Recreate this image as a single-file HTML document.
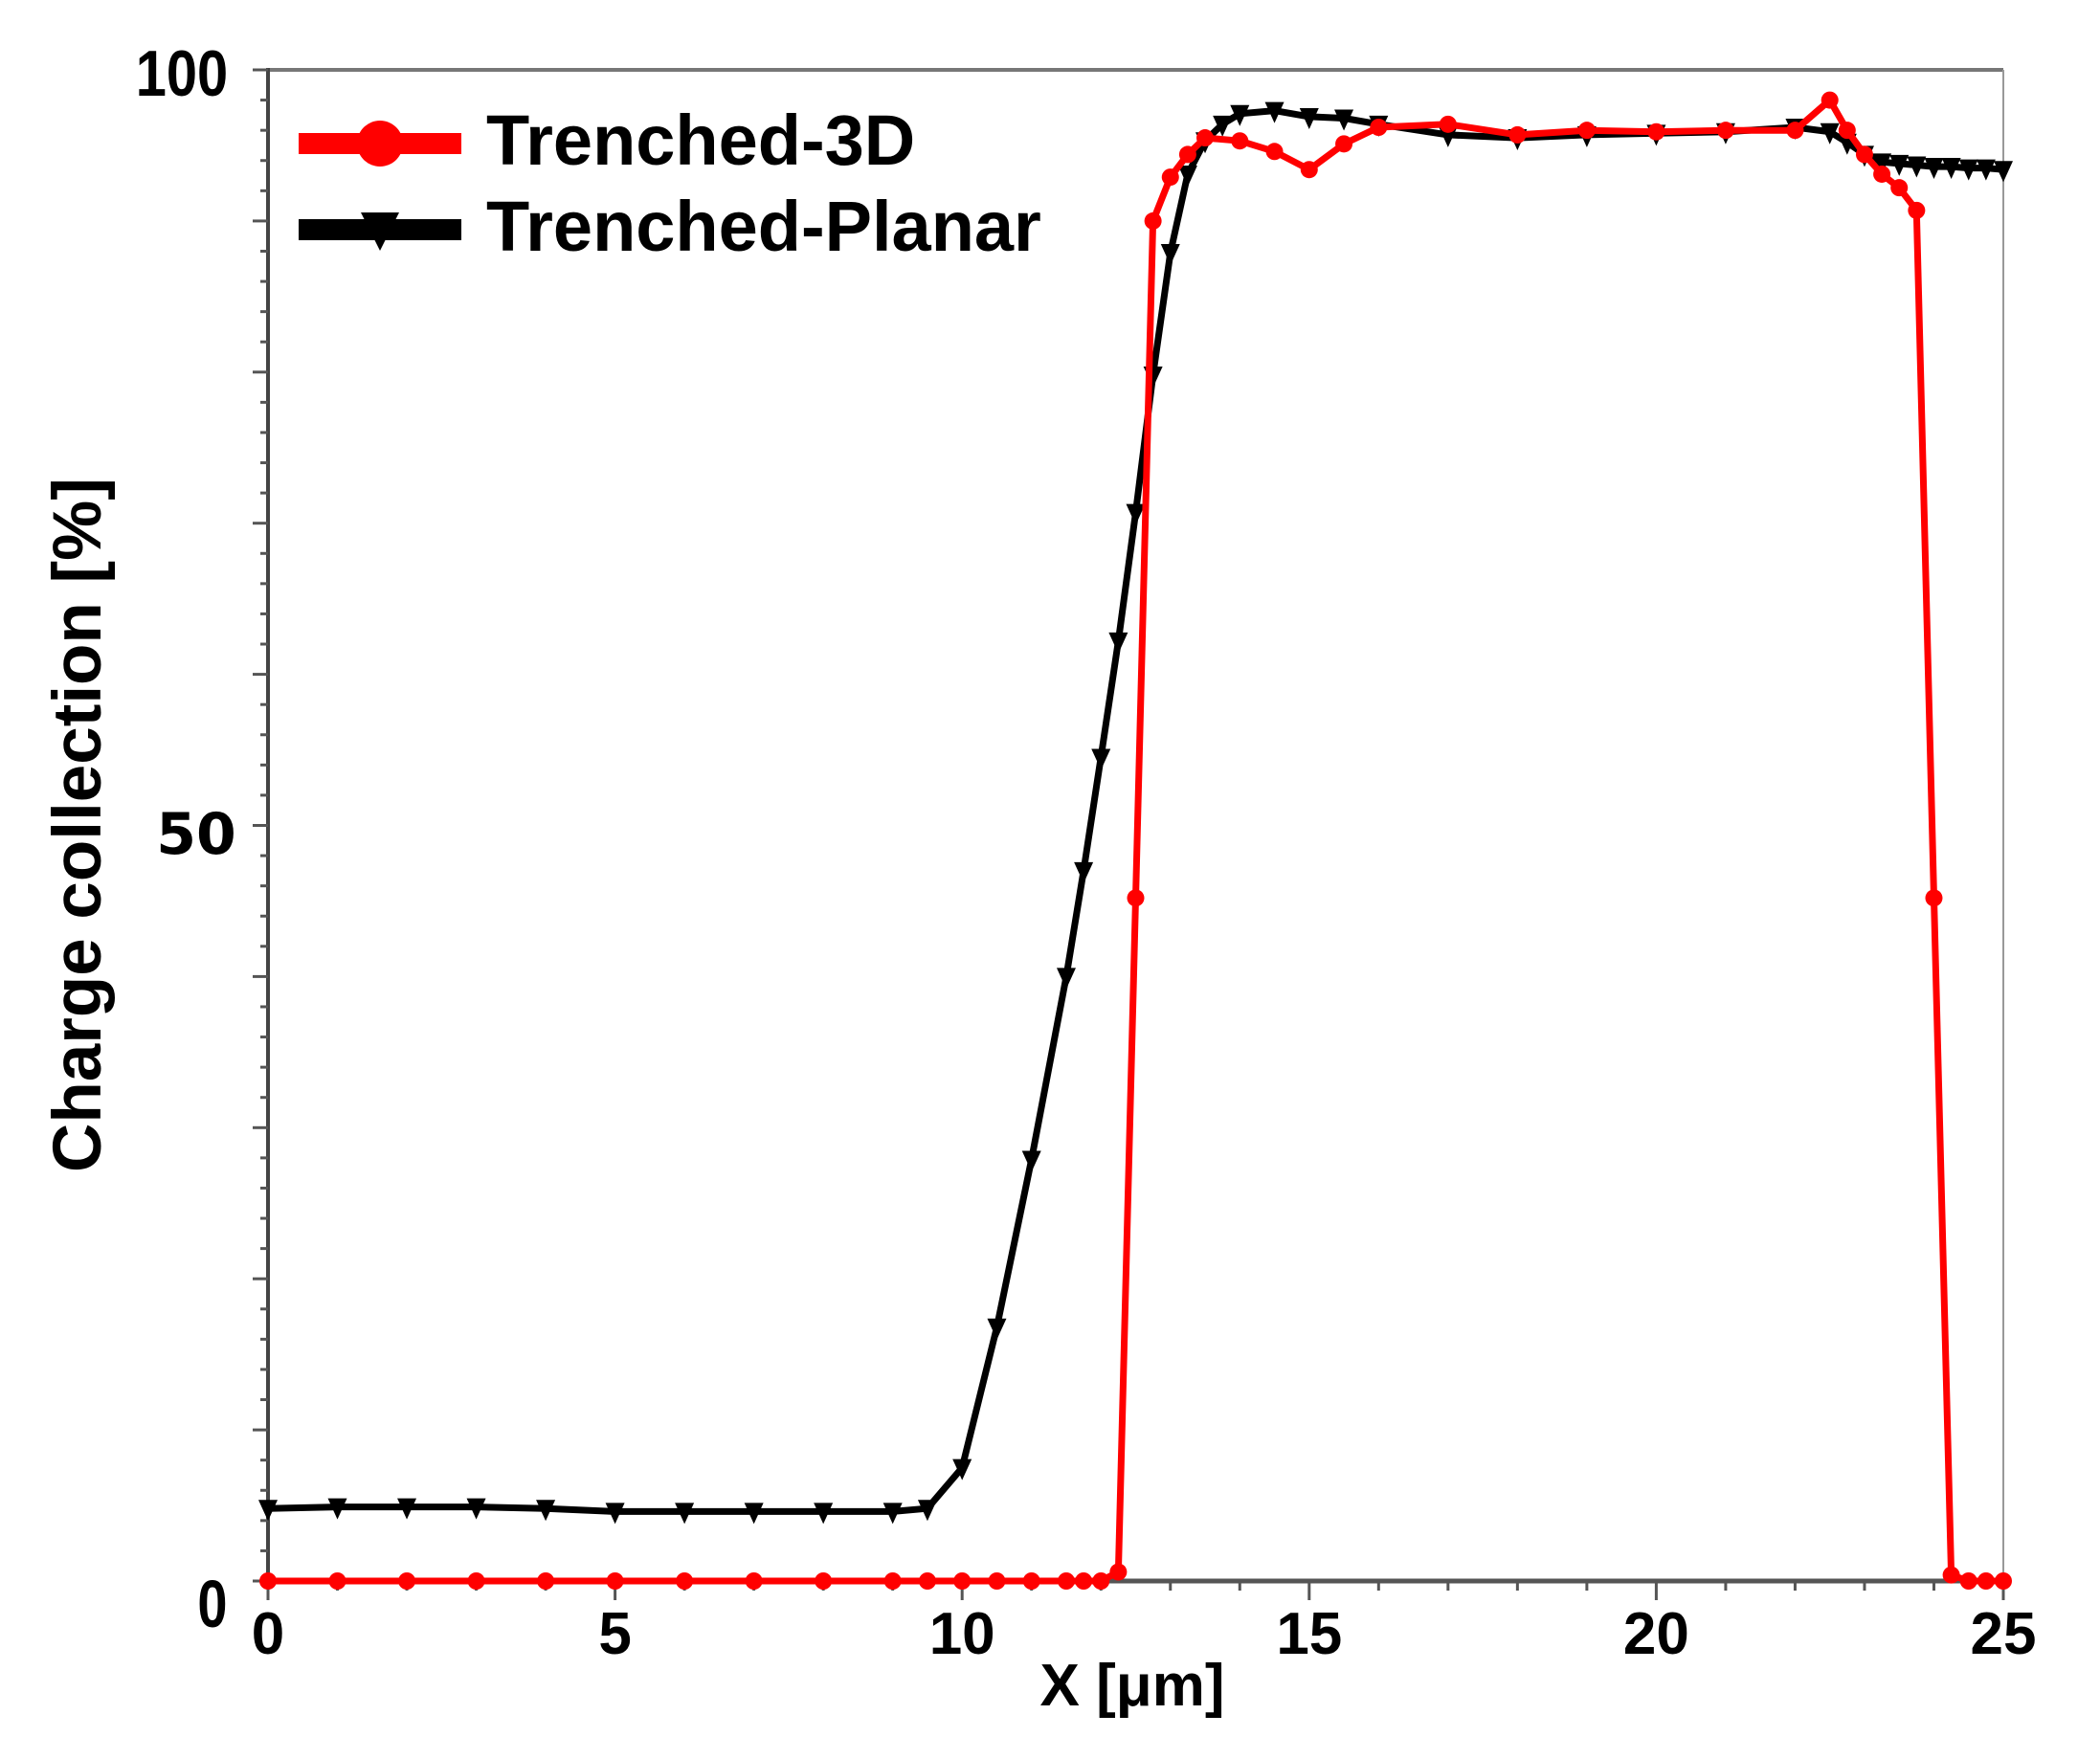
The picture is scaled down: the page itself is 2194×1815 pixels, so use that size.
<!DOCTYPE html>
<html><head><meta charset="utf-8"><style>
html,body{margin:0;padding:0;background:#fff;}
svg{display:block;}
text{font-family:"Liberation Sans",sans-serif;font-weight:bold;fill:#000;}
</style></head><body>
<svg id="s" width="2194" height="1815" viewBox="0 0 2194 1815" xmlns="http://www.w3.org/2000/svg">
<rect width="2194" height="1815" fill="#fff"/>
<line x1="280" y1="73" x2="2093" y2="73" stroke="#777" stroke-width="4"/>
<line x1="2093" y1="73" x2="2093" y2="1652" stroke="#999" stroke-width="2"/>
<line x1="280" y1="71" x2="280" y2="1655" stroke="#444" stroke-width="4"/>
<line x1="272" y1="1652" x2="2093" y2="1652" stroke="#555" stroke-width="5"/>
<g id="ticks"></g>
<g id="series"></g>
<text x="190" y="100" font-size="68" text-anchor="middle" transform="translate(190 0) scale(0.85 1) translate(-190 0)">100</text>
<text x="205" y="892" font-size="60" text-anchor="middle" style="font-family:'DejaVu Sans',sans-serif">50</text>
<text x="222" y="1700" font-size="70" text-anchor="middle" transform="translate(222 0) scale(0.8 1) translate(-222 0)">0</text>
<text transform="translate(105 862) rotate(-90)" font-size="71" text-anchor="middle">Charge collection [%]</text>
<text x="1183" y="1782" font-size="62" text-anchor="middle">X [μm]</text>
<g>
<line x1="312" y1="150" x2="482" y2="150" stroke="#f00" stroke-width="22"/>
<circle cx="397" cy="150" r="24" fill="#f00"/>
<line x1="312" y1="240" x2="482" y2="240" stroke="#000" stroke-width="22"/>
<polygon points="377,222 417,222 397,262" fill="#000"/>
<text x="508" y="172" font-size="74">Trenched-3D</text>
<text x="508" y="262" font-size="74">Trenched-Planar</text>
</g>
</svg>
<script>
var X0=280,X1=2093,Y0=1652,Y1=73;
function px(x){return X0+(X1-X0)*x/25;}
function py(y){return Y0-(Y0-Y1)*y/100;}
var NS="http://www.w3.org/2000/svg";
function el(t,a,p){var e=document.createElementNS(NS,t);for(var k in a)e.setAttribute(k,a[k]);p.appendChild(e);return e;}
var tg=document.getElementById("ticks");
for(var v=0;v<=100;v+=2){var L=(v%10==0)?16:8;el("line",{x1:280-L,y1:py(v),x2:280,y2:py(v),stroke:"#555","stroke-width":3},tg);}
for(var x=0;x<=25;x++){var L=(x%5==0)?20:10;el("line",{x1:px(x),y1:1652,x2:px(x),y2:1652+L,stroke:"#555","stroke-width":3},tg);}
[0,5,10,15,20,25].forEach(function(l){var t=el("text",{x:px(l),y:1728,"font-size":62,"text-anchor":"middle"},tg);t.textContent=l;});
var black=[[0,4.8],[1,4.9],[2,4.9],[3,4.9],[4,4.8],[5,4.6],[6,4.6],[7,4.6],[8,4.6],[9,4.6],[9.5,4.8],[10,7.5],[10.5,16.8],[11,27.9],[11.5,40],[11.75,47],[12,54.5],[12.25,62.2],[12.5,70.7],[12.75,79.8],[13,87.9],[13.25,93.1],[13.5,95.3],[13.75,96.4],[14,97.1],[14.5,97.3],[15,96.9],[15.5,96.8],[16,96.4],[17,95.7],[18,95.5],[19,95.7],[20,95.8],[21,95.9],[22,96.2],[22.5,95.9],[22.75,95.2],[23,94.4],[23.25,93.9],[23.5,93.8],[23.75,93.7],[24,93.6],[24.25,93.6],[24.5,93.5],[24.75,93.5],[25,93.4]];
var red=[[0,0],[1,0],[2,0],[3,0],[4,0],[5,0],[6,0],[7,0],[8,0],[9,0],[9.5,0],[10,0],[10.5,0],[11,0],[11.5,0],[11.75,0],[12,0],[12.25,0.6],[12.5,45.2],[12.75,90],[13,92.9],[13.25,94.4],[13.5,95.5],[14,95.3],[14.5,94.6],[15,93.4],[15.5,95.1],[16,96.2],[17,96.4],[18,95.7],[19,96],[20,95.9],[21,96],[22,96],[22.5,98],[22.75,96],[23,94.4],[23.25,93.1],[23.5,92.2],[23.75,90.7],[24,45.2],[24.25,0.4],[24.5,0],[24.75,0],[25,0]];
var sg=document.getElementById("series");
function pts(d){return d.map(function(p){return px(p[0]).toFixed(1)+","+py(p[1]).toFixed(1);}).join(" ");}
el("polyline",{points:pts(black),fill:"none",stroke:"#000","stroke-width":7,"stroke-linejoin":"round"},sg);
black.forEach(function(p){var x=px(p[0]),y=py(p[1]);el("polygon",{points:(x-10)+","+(y-9)+" "+(x+10)+","+(y-9)+" "+x+","+(y+13),fill:"#000"},sg);});
el("polyline",{points:pts(red),fill:"none",stroke:"#f00","stroke-width":7,"stroke-linejoin":"round"},sg);
red.forEach(function(p){el("circle",{cx:px(p[0]),cy:py(p[1]),r:9,fill:"#f00"},sg);});
</script>
</body></html>
